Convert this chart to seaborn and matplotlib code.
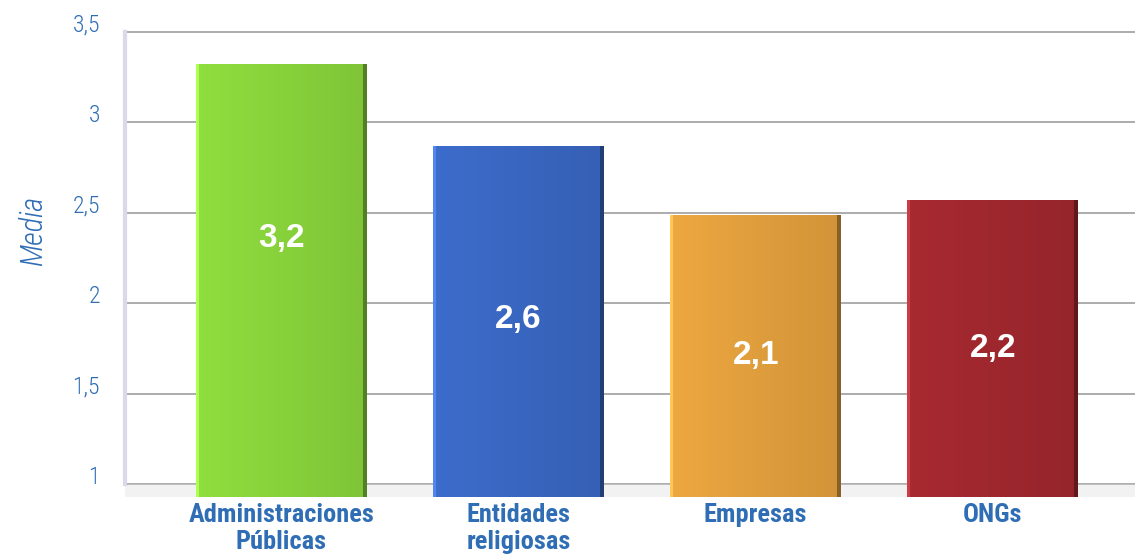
import numpy as np
import pandas as pd
import seaborn as sns
import matplotlib.pyplot as plt
import matplotlib.transforms as mtransforms
from matplotlib.colors import to_rgb

categorias = ['Administraciones\nPúblicas', 'Entidades\nreligiosas', 'Empresas', 'ONGs']
media = [3.2, 2.6, 2.1, 2.2]              # valores rotulados
altura_barra = [3.32, 2.87, 2.49, 2.57]   # altura dibujada (efecto 3D del original)
colores = ['#8ad63c', '#3a68c4', '#e4a13e', '#a2282f']
ticks_y = [1, 1.5, 2, 2.5, 3, 3.5]
etiquetas_y = ['1', '1,5', '2', '2,5', '3', '3,5']

AZUL = '#2f6db5'
Y_MIN = 0.93
ESTRECHA = ['Liberation Sans Narrow', 'DejaVu Sans Condensed', 'Roboto Condensed', 'Roboto', 'DejaVu Sans']

sns.set_style('white')
plt.rcParams['font.family'] = ESTRECHA

df = pd.DataFrame({'cat': categorias, 'altura': altura_barra, 'media': media})

fig = plt.figure(figsize=(11.35, 5.59), dpi=100)
ax = fig.add_axes([125 / 1135, 62 / 559, 1010 / 1135, 467 / 559])

sns.barplot(data=df, x='cat', y='altura', hue='cat', palette=colores, width=0.72,
            saturation=1, legend=False, ax=ax, linewidth=0, zorder=3)

ax.set_ylim(Y_MIN, 3.51)
ax.set_xlim(-0.66, 3.6)

# sombreado horizontal suave de cada barra
for patch, col in zip(ax.patches, colores):
    x0, y0 = patch.get_x(), Y_MIN
    x1, y1 = x0 + patch.get_width(), patch.get_height()
    base = np.array(to_rgb(col))
    t = np.linspace(0, 1, 170)
    shade = 1.04 - 0.12 * t
    grad = np.clip(base[None, :] * shade[:, None], 0, 1)
    grad[:3] = np.clip(base * 1.15 + 0.06, 0, 1)
    grad[-4:] = base * 0.6
    im = ax.imshow(grad[None, :, :], extent=[x0, x1, y0, y1], aspect='auto',
                   zorder=4, interpolation='bilinear')
    im.set_clip_path(patch)

# valores dentro de las barras
for patch, m in zip(ax.patches, df['media']):
    top = patch.get_height()
    y = max((Y_MIN + top) / 2, top - 0.96)
    ax.text(patch.get_x() + patch.get_width() / 2, y, f'{m:.1f}'.replace('.', ','),
            ha='center', va='center', color='white', fontsize=24, fontweight='bold',
            family=['Liberation Sans', 'DejaVu Sans'], zorder=6)

ax.axhspan(Y_MIN, 1.0, color='#dcdcdc', alpha=0.35, zorder=1, lw=0)

ax.set_yticks(ticks_y)
ax.set_yticklabels(etiquetas_y, color=AZUL, fontsize=17, fontweight='light')
ax.yaxis.grid(True, color='#a6a6a6', lw=1.3)
ax.set_axisbelow(True)
ax.tick_params(axis='y', length=0, pad=18)
ax.tick_params(axis='x', length=0, pad=4)
offset = mtransforms.ScaledTranslation(0, 0.09, fig.dpi_scale_trans)
for lab in ax.get_yticklabels():
    lab.set_transform(lab.get_transform() + offset)

for lab in ax.get_xticklabels():
    lab.set_color(AZUL)
    lab.set_fontsize(19)
    lab.set_fontweight('bold')
    lab.set_linespacing(1.2)

ax.set_xlabel('')
ax.set_ylabel('Media', color=AZUL, fontsize=22, style='italic', fontweight='light')
ax.yaxis.set_label_coords(-0.076, 0.57)

for s in ['top', 'right', 'bottom']:
    ax.spines[s].set_visible(False)
ax.spines['left'].set_color('#d9d9ea')
ax.spines['left'].set_linewidth(3)
ax.spines['left'].set_bounds(1, 3.5)

fig.savefig('out.png', dpi=100)
